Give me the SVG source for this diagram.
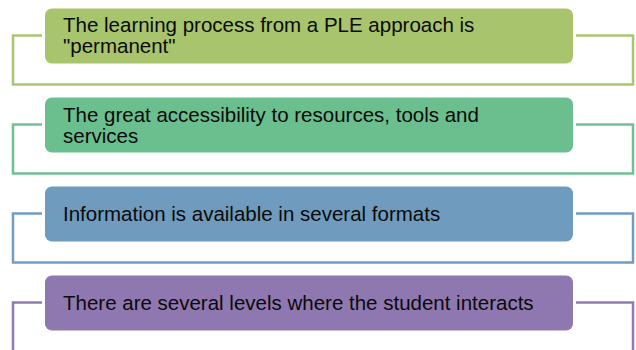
<svg xmlns="http://www.w3.org/2000/svg" width="636" height="350" viewBox="0 0 636 350">
<style>
.frame{fill:none;stroke-width:2.5}
.halo{fill:#fff}
.box{stroke:none}
.t{font-family:"Liberation Sans",Arial,sans-serif;font-size:20.5px;fill:#0a0a0a}
</style>
<rect width="636" height="350" fill="#fff"/>
<g id="connectors">
<rect class="frame" x="13" y="35.5" width="620" height="49" stroke="#A9C572"/>
<rect class="frame" x="13" y="124.5" width="620" height="49" stroke="#70C192"/>
<rect class="frame" x="13" y="213.5" width="620" height="49" stroke="#739DC0"/>
<rect class="frame" x="13" y="302.5" width="620" height="60" stroke="#917CB2"/>
</g>
<g id="node1">
<rect class="halo" x="42" y="5.5" width="534" height="61" rx="8"/>
<rect class="box" x="45" y="8.5" width="528" height="55" rx="7" fill="#A8C46C"/>
<text class="t" x="63" y="32">The learning process from a PLE approach is</text>
<text class="t" x="63" y="53">"permanent"</text>
</g>
<g id="node2">
<rect class="halo" x="42" y="94.5" width="534" height="61" rx="8"/>
<rect class="box" x="45" y="97.5" width="528" height="55" rx="7" fill="#6BBF8F"/>
<text class="t" x="63" y="121.5">The great accessibility to resources, tools and</text>
<text class="t" x="63" y="142.5">services</text>
</g>
<g id="node3">
<rect class="halo" x="42" y="183.5" width="534" height="61" rx="8"/>
<rect class="box" x="45" y="186.5" width="528" height="55" rx="7" fill="#6F9BBE"/>
<text class="t" x="63" y="221">Information is available in several formats</text>
</g>
<g id="node4">
<rect class="halo" x="42" y="272.5" width="534" height="61" rx="8"/>
<rect class="box" x="45" y="275.5" width="528" height="55" rx="7" fill="#8F78B0"/>
<text class="t" x="63" y="310">There are several levels where the student interacts</text>
</g>
</svg>
